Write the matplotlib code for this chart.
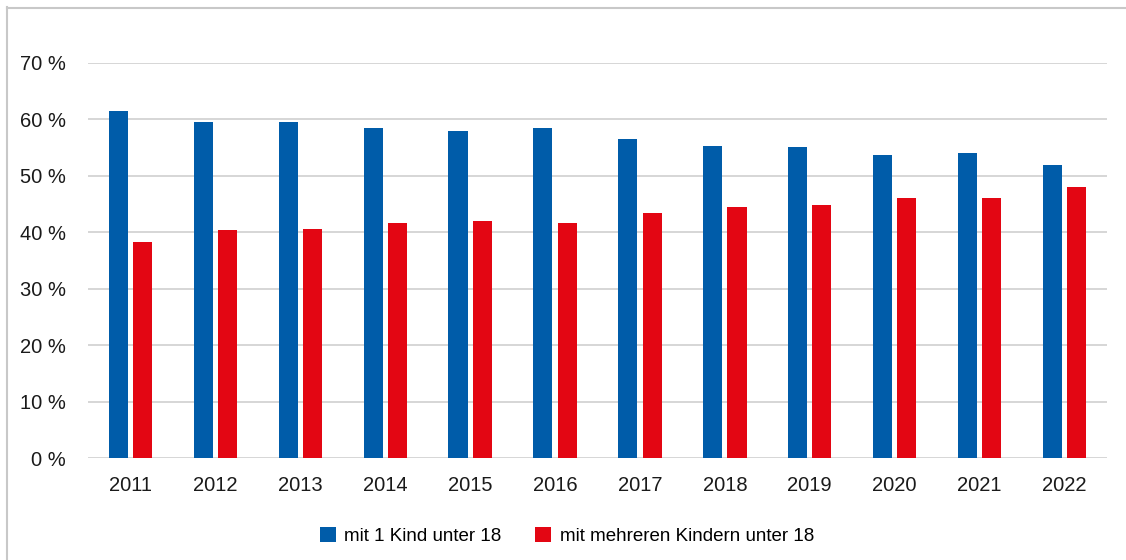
import numpy as np
import matplotlib.pyplot as plt
from matplotlib.lines import Line2D

years = ["2011", "2012", "2013", "2014", "2015", "2016",
         "2017", "2018", "2019", "2020", "2021", "2022"]
one_child = [61.5, 59.5, 59.5, 58.5, 57.9, 58.5, 56.5, 55.3, 55.1, 53.7, 54.0, 51.9]
several_children = [38.3, 40.4, 40.6, 41.6, 42.0, 41.6, 43.4, 44.5, 44.8, 46.1, 46.1, 48.0]
series_labels = ["mit 1 Kind unter 18", "mit mehreren Kindern unter 18"]
y_ticks = [0, 10, 20, 30, 40, 50, 60, 70]

BLUE = "#005CA9"
RED = "#E30613"
GRID = "#D0D0D0"

plt.rcParams["font.family"] = ["Liberation Sans Narrow", "Liberation Sans", "DejaVu Sans"]

fig = plt.figure(figsize=(11.26, 5.6), dpi=100)
ax = fig.add_axes([88 / 1126, 1 - 458 / 560, (1107 - 88) / 1126, (458 - 63) / 560])

x = np.arange(len(years))
w = 0.225
gap = 0.06
ax.bar(x - (w + gap) / 2, one_child, width=w, color=BLUE, label=series_labels[0], zorder=3)
ax.bar(x + (w + gap) / 2, several_children, width=w, color=RED, label=series_labels[1], zorder=3)

ax.set_xlim(-0.5, len(years) - 0.5)
ax.set_ylim(0, 70)
ax.set_yticks(y_ticks)
ax.set_yticklabels([f"{t} %" for t in y_ticks])
ax.set_xticks(x)
ax.set_xticklabels(years)
ax.tick_params(axis="both", length=0, labelsize=14.5, colors="#1a1a1a")
ax.tick_params(axis="x", pad=13)
ax.tick_params(axis="y", pad=16)

ax.grid(axis="y", color=GRID, linewidth=1.2, zorder=0)
for s in ax.spines.values():
    s.set_visible(False)

# light frame along the top and left edge
fig.add_artist(Line2D([7 / 1126, 1.0], [1 - 7.5 / 560, 1 - 7.5 / 560],
                      transform=fig.transFigure, color="#C8C8C8", linewidth=1.5))
fig.add_artist(Line2D([7.5 / 1126, 7.5 / 1126], [0.0, 1 - 7 / 560],
                      transform=fig.transFigure, color="#C8C8C8", linewidth=1.5))

fig.legend(loc="center", bbox_to_anchor=(567 / 1126, 1 - 536 / 560), ncol=2,
           frameon=False, fontsize=13.5, handlelength=0.85, handleheight=0.85,
           handletextpad=0.45, columnspacing=1.8)

fig.savefig("out.png", dpi=100)
